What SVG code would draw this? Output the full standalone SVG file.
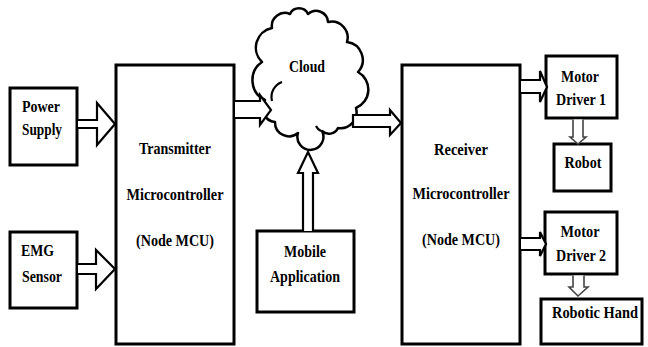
<svg xmlns="http://www.w3.org/2000/svg" width="648" height="347" viewBox="0 0 648 347">
<style>
.box{fill:#fff;stroke:#000;stroke-width:3}
.arr{fill:#fff;stroke:#000;stroke-width:2.2;stroke-linejoin:miter}
.sarr{fill:#fff;stroke:#444;stroke-width:1.6}
.cloud{fill:#fff;stroke:#000;stroke-width:2.5;stroke-linejoin:round}
.inner{fill:none;stroke:#000;stroke-width:2.2}
text{font-family:'Liberation Serif','Times New Roman',serif;font-weight:700;font-size:16px;fill:#000}
.c{text-anchor:middle}
</style>
<rect width="648" height="347" fill="#fff"/>
<g id="cloud">
<path class="cloud" d="M265,100 A22,22 0 0 1 262,62 A20,20 0 0 1 272,28 A13,13 0 0 1 290,14 A10,10 0 0 1 308,14 A12,12 0 0 1 328,22 A16,16 0 0 1 347,42 A18,18 0 0 1 358,72 A20,20 0 0 1 356,108 A16,16 0 0 1 338,128 A10,10 0 0 1 322,131 A13,13 0 1 1 298,133 A14,14 0 0 1 275,122 A14,14 0 0 1 265,100 Z"/>
<path class="inner" d="M282,82 A16,16 0 0 0 272,101"/>
<path class="inner" d="M316,126 A10,10 0 0 0 321,131"/>
<text class="c" x="307" y="72" textLength="36" lengthAdjust="spacingAndGlyphs">Cloud</text>
</g>
<g id="power">
<rect class="box" x="10" y="88" width="67" height="77"/>
<text x="22" y="112" textLength="38" lengthAdjust="spacingAndGlyphs">Power</text>
<text x="22" y="135" textLength="40" lengthAdjust="spacingAndGlyphs">Supply</text>
</g>
<g id="emg">
<rect class="box" x="10" y="232" width="67" height="76"/>
<text x="21" y="256" textLength="33" lengthAdjust="spacingAndGlyphs">EMG</text>
<text x="22" y="282" textLength="40" lengthAdjust="spacingAndGlyphs">Sensor</text>
</g>
<g id="transmitter">
<rect class="box" x="116" y="65" width="118" height="279"/>
<text class="c" x="175" y="154" textLength="72" lengthAdjust="spacingAndGlyphs">Transmitter</text>
<text class="c" x="175" y="200" textLength="97" lengthAdjust="spacingAndGlyphs">Microcontroller</text>
<text class="c" x="175" y="246" textLength="78" lengthAdjust="spacingAndGlyphs">(Node MCU)</text>
</g>
<g id="mobile">
<rect class="box" x="257" y="231" width="97" height="81"/>
<text class="c" x="305" y="257" textLength="42" lengthAdjust="spacingAndGlyphs">Mobile</text>
<text class="c" x="305" y="282" textLength="70" lengthAdjust="spacingAndGlyphs">Application</text>
</g>
<g id="receiver">
<rect class="box" x="402" y="65" width="118" height="279"/>
<text class="c" x="461" y="155" textLength="54" lengthAdjust="spacingAndGlyphs">Receiver</text>
<text class="c" x="461" y="199" textLength="97" lengthAdjust="spacingAndGlyphs">Microcontroller</text>
<text class="c" x="461" y="245" textLength="78" lengthAdjust="spacingAndGlyphs">(Node MCU)</text>
</g>
<g id="md1">
<rect class="box" x="546" y="56" width="71" height="62"/>
<text class="c" x="580" y="82" textLength="38" lengthAdjust="spacingAndGlyphs">Motor</text>
<text class="c" x="581" y="105" textLength="50" lengthAdjust="spacingAndGlyphs">Driver 1</text>
</g>
<g id="robot">
<rect class="box" x="554" y="144" width="57" height="47"/>
<text class="c" x="583" y="168" textLength="37" lengthAdjust="spacingAndGlyphs">Robot</text>
</g>
<g id="md2">
<rect class="box" x="545" y="212" width="72" height="62"/>
<text class="c" x="580" y="237" textLength="39" lengthAdjust="spacingAndGlyphs">Motor</text>
<text class="c" x="581" y="261" textLength="50" lengthAdjust="spacingAndGlyphs">Driver 2</text>
</g>
<g id="hand">
<rect class="box" x="541" y="299" width="101" height="45"/>
<text class="c" x="595" y="318" textLength="86" lengthAdjust="spacingAndGlyphs">Robotic Hand</text>
</g>
<g id="connectors">
<path class="arr" d="M78,120 H97 V103 L115,124 L97,145 V128 H78"/>
<path class="arr" d="M78,264 H96 V250 L115,269 L96,289 V274 H78"/>
<path class="arr" d="M235,101 H260 V95 L271,110 L260,125 V118 H235"/>
<path class="arr" d="M353,115 H390 V110 L401,123 L390,135 V127 H353 Z"/>
<path class="arr" d="M303,231 V173 H298 L308,152 L318,173 H313 V231"/>
<path class="arr" d="M521,80 H540 V71 L547,87 L540,102 V93 H521"/>
<path class="arr" d="M521,238 H540 V232 L546,244 L540,256 V250 H521"/>
<path class="sarr" d="M573,119.5 V137 H570 L578,144 L586,137 H583 V119.5"/>
<path class="sarr" d="M573,275.5 V287 H569 L578,296 L588,287 H584 V275.5"/>
</g>
</svg>
